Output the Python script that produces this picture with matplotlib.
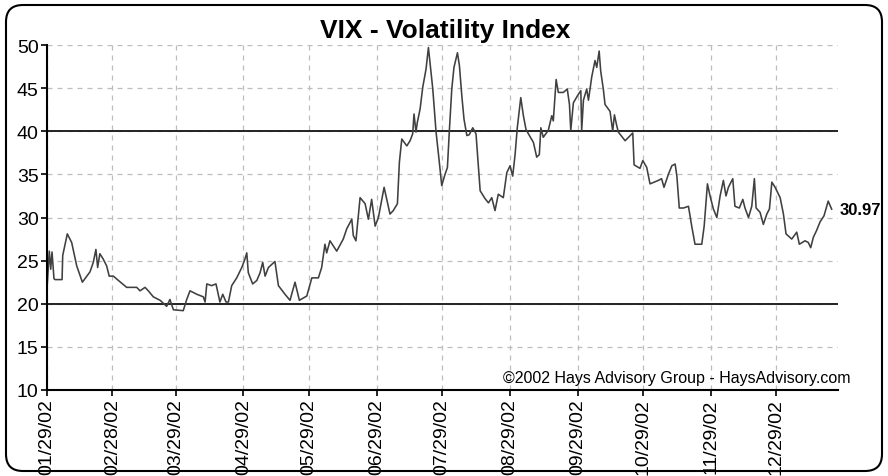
import matplotlib
matplotlib.use("Agg")
import matplotlib.pyplot as plt
from matplotlib.patches import FancyBboxPatch
import pandas as pd
import numpy as np

# ---- data ----
start_date = "2002-01-29"
day_offset = [
    0.0, 1.05, 1.7, 2.3, 3.2, 3.7, 6.9, 7.2, 9.3, 11.3, 13.6, 16.2, 19.7, 21.2, 22.4, 23.2,
    24.2, 25.7, 27.3, 28.5, 30.4, 32.7, 36.5, 41.1, 42.6, 44.9, 46.4, 48.7, 51.8, 54.8,
    56.3, 57.9, 62.4, 64.0, 65.5, 68.6, 71.6, 72.4, 73.2, 75.4, 77.4, 79.2, 80.5, 82.0,
    83.1, 84.6, 86.9, 89.2, 90.7, 91.5, 92.2, 94.2, 96.1, 97.6, 98.8, 99.9, 101.4, 104.4,
    106.0, 109.0, 111.3, 113.6, 115.6, 119.0, 121.3, 124.3, 125.8, 127.3, 128.1, 129.6,
    132.7, 135.7, 137.3, 139.6, 140.3, 141.5, 143.4, 145.7, 147.2, 148.7, 150.3, 151.8,
    154.4, 155.6, 157.1, 158.6, 160.5, 161.4, 162.5, 164.8, 166.3, 167.5, 168.1, 169.0,
    169.6, 170.9, 172.1, 173.6, 174.7, 175.4, 176.7, 178.2, 179.7, 180.8, 182.3, 183.4,
    184.3, 185.4, 186.4, 188.0, 188.9, 190.0, 191.0, 192.3, 193.4, 195.0, 196.5, 198.4,
    200.6, 202.2, 203.7, 205.2, 206.7, 209.0, 210.6, 212.1, 213.3, 214.4, 215.4, 217.0,
    218.2, 219.4, 220.5, 222.8, 224.3, 225.5, 226.2, 227.3, 229.6, 231.2, 231.9, 233.2,
    234.2, 236.5, 238.3, 239.3, 239.9, 241.1, 243.4, 244.5, 244.9, 245.7, 247.2, 248.0,
    249.5, 251.0, 251.8, 252.9, 253.6, 254.8, 255.6, 257.9, 259.1, 259.9, 261.0, 261.7,
    264.8, 268.3, 268.9, 271.6, 272.9, 274.7, 276.2, 280.0, 281.5, 282.6, 284.6, 286.2,
    287.7, 288.5, 289.6, 291.5, 293.8, 295.3, 296.8, 299.9, 301.0, 302.5, 303.7, 305.2,
    306.8, 308.3, 309.8, 311.0, 312.1, 314.1, 315.1, 317.1, 318.7, 319.7, 321.3, 322.8,
    324.0, 324.8, 326.6, 328.1, 329.7, 330.9, 332.0, 333.5, 335.8, 337.3, 338.5, 341.1,
    343.4, 344.6, 347.2, 348.7, 349.8, 351.0, 352.5, 354.1, 355.9, 357.8, 359.4,
]
vix = [
    21.7, 26.1, 24.0, 26.0, 22.9, 22.8, 22.8, 25.6, 28.1, 27.1, 24.4, 22.5, 23.7, 24.8, 26.3, 24.2,
    25.8, 25.2, 24.4, 23.2, 23.2, 22.7, 21.9, 21.9, 21.5, 21.9, 21.5, 20.8, 20.4, 19.7,
    20.5, 19.3, 19.2, 20.5, 21.5, 21.1, 20.8, 20.2, 22.3, 22.1, 22.3, 20.2, 21.1, 20.2,
    20.2, 22.1, 23.0, 24.2, 25.2, 25.9, 23.6, 22.3, 22.7, 23.6, 24.8, 23.2, 24.2, 24.9,
    22.1, 21.1, 20.4, 22.5, 20.4, 20.9, 23.0, 23.0, 24.2, 26.9, 25.9, 27.3,
    26.1, 27.5, 28.7, 29.8, 27.9, 27.3, 32.3, 31.6, 29.8, 32.1, 29.0, 30.0,
    33.5, 32.1, 30.4, 30.8, 31.6, 36.4, 39.1, 38.3, 38.9, 39.7, 42.0, 39.9,
    41.0, 42.6, 45.1, 47.2, 49.7, 48.0, 44.9, 39.9, 36.4, 33.7, 35.0, 35.8,
    40.1, 44.9, 47.4, 49.1, 47.6, 44.1, 41.4, 39.5, 39.6, 40.4, 39.7, 33.1,
    32.2, 31.7, 32.3, 30.8, 32.7, 32.3, 35.2, 36.0, 34.8, 37.3, 40.4, 43.9,
    41.8, 40.2, 39.7, 38.7, 37.0, 37.3, 40.4, 39.3, 40.1, 41.8, 41.2, 46.0,
    44.5, 44.5, 44.9, 43.1, 40.1, 43.3, 44.3, 44.7, 40.1, 43.6, 44.9, 43.6,
    46.3, 48.2, 47.4, 49.3, 47.0, 44.9, 43.1, 42.3, 40.0, 41.9, 40.6, 39.9,
    38.9, 39.8, 36.1, 35.7, 36.6, 35.8, 33.9, 34.3, 34.5, 33.5, 35.0, 36.0,
    36.2, 34.8, 31.1, 31.1, 31.3, 29.0, 26.9, 26.9, 29.0, 33.9, 32.5, 31.0,
    30.0, 32.5, 34.3, 32.5, 33.5, 34.5, 31.3, 31.1, 32.1, 31.1, 30.0, 31.3,
    34.5, 31.1, 30.6, 29.2, 30.4, 31.0, 34.1, 33.5, 32.3, 30.4, 28.1, 27.5,
    28.3, 26.9, 27.3, 27.1, 26.5, 27.7, 28.5, 29.5, 30.2, 31.9, 30.97,
]
tick_dates = ["2002-01-29", "2002-02-28", "2002-03-29", "2002-04-29", "2002-05-29",
              "2002-06-29", "2002-07-29", "2002-08-29", "2002-09-29", "2002-10-29",
              "2002-11-29", "2002-12-29"]
tick_labels = ["01/29/02", "02/28/02", "03/29/02", "04/29/02", "05/29/02", "06/29/02",
               "07/29/02", "08/29/02", "09/29/02", "10/29/02", "11/29/02", "12/29/02"]
y_ticks = [10, 15, 20, 25, 30, 35, 40, 45, 50]
ref_levels = [20, 40]
last_label = "30.97"
title = "VIX - Volatility Index"
credit = "\u00a92002 Hays Advisory Group - HaysAdvisory.com"

plt.rcParams['font.family'] = ['Liberation Sans', 'DejaVu Sans']

W, H = 888, 477
fig = plt.figure(figsize=(W / 100, H / 100), dpi=100)
fig.patch.set_facecolor("white")

# rounded frame
frame = FancyBboxPatch((6 / W, 5 / H), (W - 12) / W, (H - 11) / H,
                       boxstyle="round,pad=0,rounding_size=0.019",
                       transform=fig.transFigure, facecolor="none",
                       edgecolor="black", linewidth=1.5, mutation_aspect=W / H)
fig.patches.append(frame)

ax = fig.add_axes([47 / W, 1 - 391 / H, (838 - 47) / W, (391 - 46) / H])

t0 = pd.Timestamp(start_date)
dates = t0 + pd.to_timedelta(np.array(day_offset), unit="D")
ax.plot(dates, vix, color="#404040", linewidth=1.15, zorder=3)

for lv in ref_levels:
    ax.axhline(lv, color="#222222", linewidth=1.4, zorder=2)

ax.set_xlim(t0, t0 + pd.Timedelta(days=362.3))
ax.set_ylim(10, 50)
ax.set_yticks(y_ticks)
ax.set_xticks(pd.to_datetime(tick_dates))
ax.set_xticklabels(tick_labels, rotation=90)
ax.tick_params(axis="both", labelsize=14, length=4, width=1.2, pad=2, colors="black")

ax.grid(True, color="#bdbdbd", linestyle=(0, (4, 4)), linewidth=0.9, zorder=1)
for s in ["top", "right"]:
    ax.spines[s].set_visible(False)
for s in ["left", "bottom"]:
    ax.spines[s].set_linewidth(1.5)
    ax.spines[s].set_color("black")
    ax.spines[s].set_zorder(4)

ax.annotate(last_label, xy=(dates[-1], vix[-1]), xytext=(6, 0),
            textcoords="offset points", ha="left", va="center",
            fontsize=12, fontweight="bold", annotation_clip=False)

fig.text(445 / W, 1 - 31 / H, title, ha="center", va="center",
         fontsize=19, fontweight="bold")
fig.text(850 / W, 1 - 378 / H, credit, ha="right", va="center", fontsize=11.5)

fig.savefig("out.png", dpi=100)
